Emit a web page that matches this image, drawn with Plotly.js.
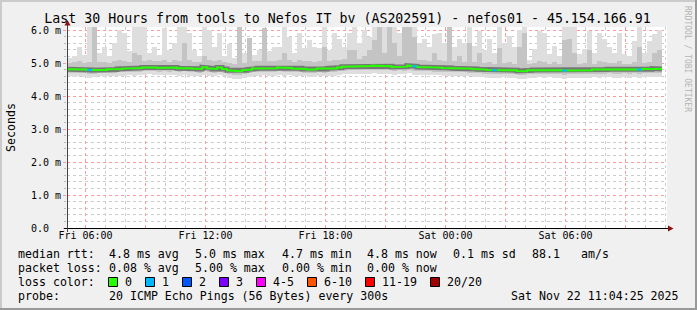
<!DOCTYPE html>
<html><head><meta charset="utf-8">
<script src="https://cdn.plot.ly/plotly-3.0.1.min.js"></script>
<style>
html,body{margin:0;padding:0;background:#f0f0f0;}
#wrap{position:relative;width:697px;height:310px;overflow:hidden;background:#f0f0f0;}
#chart{position:absolute;left:0;top:0;width:697px;height:310px;}
.b{position:absolute;pointer-events:none;}
</style></head><body>
<div id="wrap"><div id="chart"></div>
<div class="b" style="left:0;top:0;width:697px;height:2px;background:#cbcbcb"></div>
<div class="b" style="left:0;top:0;width:2px;height:310px;background:#cbcbcb"></div>
<div class="b" style="left:0;bottom:0;width:697px;height:2px;background:#999999"></div>
<div class="b" style="right:0;top:0;width:2px;height:310px;background:#999999"></div>
</div>
<script>
// ---------- data (ms), 15-minute bins starting Fri 2025-11-21 05:04:25 ----------
const titleText = 'Last 30 Hours from tools to Nefos IT bv (AS202591) - nefos01 - 45.154.166.91';
const rangeStart = '2025-11-21 05:04:25';
const rangeEnd = '2025-11-22 11:04:25';
const binStartUTC = Date.UTC(2025, 10, 21, 5, 4, 25);
const binMinutes = 15;

const median = [4.81,4.80,4.82,4.80,4.79,4.78,4.80,4.79,4.81,4.80,4.82,4.83,
4.84,4.83,4.85,4.86,4.88,4.86,4.85,4.87,4.85,4.86,4.84,4.86,
4.84,4.83,4.82,4.87,4.84,4.82,4.86,4.82,4.78,4.76,4.75,4.78,
4.80,4.83,4.84,4.85,4.83,4.84,4.86,4.84,4.85,4.83,4.84,4.82,
4.80,4.81,4.83,4.82,4.84,4.83,4.86,4.89,4.91,4.90,4.91,4.90,
4.91,4.92,4.90,4.91,4.90,4.88,4.90,4.89,4.92,4.90,4.88,4.88,
4.87,4.86,4.86,4.85,4.85,4.84,4.85,4.84,4.83,4.82,4.81,4.80,
4.79,4.78,4.79,4.80,4.79,4.78,4.76,4.75,4.78,4.79,4.80,4.79,
4.80,4.79,4.78,4.77,4.78,4.79,4.78,4.79,4.78,4.80,4.79,4.80,
4.81,4.80,4.79,4.81,4.80,4.81,4.80,4.82,4.81,4.83,4.82,null];

const lightTop = [5.15,5.20,5.50,5.25,6.10,6.10,5.30,5.50,5.20,5.60,6.00,5.90,
5.35,6.10,6.10,6.10,5.30,5.50,5.25,6.05,5.40,5.60,6.10,6.10,
5.90,5.40,5.20,6.10,6.00,5.50,5.90,5.20,5.58,5.15,6.10,5.30,
5.77,5.25,5.40,6.05,5.35,5.50,5.50,6.10,5.80,5.30,5.90,5.45,
5.70,5.50,5.45,6.10,5.40,5.92,5.72,5.50,5.92,6.10,5.60,6.00,
5.80,6.10,6.10,6.10,6.10,6.10,5.90,6.10,6.10,6.10,5.60,5.72,
5.50,5.87,5.90,5.60,6.10,5.50,5.72,5.60,6.10,5.52,5.97,5.40,
5.72,5.30,6.10,5.60,5.82,5.50,6.00,6.10,5.10,5.41,5.97,5.92,
5.26,5.52,5.20,6.10,6.10,6.10,5.26,5.41,5.97,5.30,5.92,5.72,
5.47,5.30,5.92,5.26,5.20,5.67,6.10,5.30,5.67,5.87,6.00,null];

const mediumTop = [5.00,5.02,5.05,5.01,5.03,6.10,5.02,5.04,5.00,5.06,5.08,5.05,
5.04,5.30,5.25,5.06,5.08,5.07,5.05,5.10,5.04,5.08,5.06,5.60,
5.10,5.04,5.03,5.20,5.08,5.05,5.10,5.02,5.00,4.98,6.10,5.00,
5.77,5.05,5.06,6.05,5.06,5.05,5.08,5.30,5.10,5.04,5.09,5.05,
5.06,5.04,5.05,5.50,5.06,5.10,5.08,5.12,5.40,5.40,5.12,5.20,
5.40,5.70,6.10,5.30,6.10,5.60,5.20,6.10,6.10,5.80,5.10,5.08,
5.06,5.30,5.08,5.05,6.10,5.06,5.20,5.04,5.60,5.02,5.30,5.00,
5.02,4.98,5.45,5.00,5.03,4.98,5.50,5.90,4.96,5.00,5.05,5.02,
4.98,5.04,4.97,5.70,5.72,5.30,4.98,5.00,5.40,4.98,5.05,5.02,
5.00,4.99,5.06,4.98,4.97,5.03,5.50,5.00,5.04,5.30,5.40,null];

const mediumBottom = [4.70,4.69,4.71,4.69,4.67,4.67,4.70,4.69,4.71,4.70,4.72,4.72,
4.73,4.72,4.74,4.75,4.76,4.75,4.74,4.75,4.74,4.75,4.73,4.75,
4.73,4.72,4.71,4.75,4.73,4.71,4.74,4.71,4.67,4.65,4.64,4.67,
4.69,4.72,4.73,4.74,4.72,4.73,4.75,4.73,4.74,4.72,4.73,4.71,
4.69,4.70,4.72,4.71,4.73,4.72,4.75,4.77,4.79,4.78,4.79,4.78,
4.79,4.80,4.78,4.79,4.78,4.76,4.78,4.77,4.80,4.76,4.76,4.76,
4.75,4.74,4.74,4.73,4.73,4.72,4.73,4.72,4.71,4.70,4.69,4.68,
4.67,4.66,4.67,4.68,4.67,4.66,4.64,4.63,4.66,4.67,4.68,4.67,
4.68,4.67,4.66,4.65,4.66,4.67,4.66,4.67,4.66,4.68,4.67,4.68,
4.69,4.68,4.67,4.69,4.68,4.69,4.67,4.70,4.69,4.71,4.70,null];

const lightBottom = [4.60,4.58,4.61,4.59,4.56,4.57,4.60,4.59,4.61,4.60,4.62,4.62,
4.63,4.62,4.64,4.64,4.66,4.64,4.63,4.65,4.63,4.64,4.62,4.64,
4.62,4.61,4.60,4.64,4.62,4.60,4.63,4.60,4.56,4.53,4.52,4.56,
4.58,4.61,4.62,4.63,4.61,4.62,4.64,4.62,4.63,4.61,4.62,4.60,
4.58,4.59,4.61,4.60,4.62,4.61,4.64,4.66,4.68,4.67,4.68,4.67,
4.68,4.69,4.67,4.68,4.67,4.65,4.67,4.66,4.69,4.64,4.65,4.65,
4.64,4.63,4.63,4.62,4.62,4.61,4.62,4.61,4.60,4.59,4.58,4.57,
4.56,4.55,4.56,4.57,4.56,4.55,4.53,4.52,4.55,4.56,4.57,4.56,
4.57,4.55,4.55,4.53,4.55,4.56,4.55,4.56,4.54,4.57,4.55,4.57,
4.58,4.56,4.55,4.57,4.56,4.58,4.55,4.58,4.57,4.59,4.58,null];

const lossCount = [0,0,0,0,1,0,0,0,0,0,0,0, 0,0,0,0,0,0,0,0,0,0,0,0,
0,0,0,0,0,0,0,0,0,0,0,0, 0,0,0,0,0,0,0,0,0,0,0,0,
0,0,0,0,0,0,0,0,0,0,0,0, 0,0,0,0,0,0,0,0,0,1,0,0,
0,0,0,0,0,0,0,0,0,0,0,0, 0,1,0,0,0,0,0,0,0,0,0,0,
0,0,0,1,0,0,0,0,0,0,0,0, 0,0,0,0,0,0,1,0,0,0,0,0];

const yTickVals = [0,1,2,3,4,5,6];
const yTickText = ['0.0\u00a0\u00a0','1.0 m','2.0 m','3.0 m','4.0 m','5.0 m','6.0 m'];
const xTickVals = ['2025-11-21 06:00','2025-11-21 09:00','2025-11-21 12:00','2025-11-21 15:00',
  '2025-11-21 18:00','2025-11-21 21:00','2025-11-22 00:00','2025-11-22 03:00','2025-11-22 06:00','2025-11-22 09:00'];
const xTickText = ['Fri 06:00','','Fri 12:00','','Fri 18:00','','Sat 00:00','','Sat 06:00',''];

const rowLabels = ['median rtt:','packet loss:','loss color:','probe:'];
const rttStats = ['4.8 ms avg','5.0 ms max','4.7 ms min','4.8 ms now','0.1 ms sd','88.1','am/s'];
const lossStats = ['0.08 % avg','5.00 % max','0.00 % min','0.00 % now'];
const lossLabels = ['0','1','2','3','4-5','6-10','11-19','20/20'];
const lossColors = ['#26ff00','#00b8ff','#0059ff','#7e00ff','#ff00ff','#ff5500','#ff0000','#a10000'];
const probeText = '20 ICMP Echo Pings (56 Bytes) every 300s';
const stampText = 'Sat Nov 22 11:04:25 2025';
const watermark = 'RRDTOOL / TOBI OETIKER';
const yTitle = 'Seconds';

// ---------- geometry ----------
const L = 67, T = 27, W = 600, H = 201;
const px = x => (x - L) / W;
const py = y => (T + H - y) / H;
const MONO = 'DejaVu Sans Mono, monospace';
const stepMs = binMinutes * 60000;

const n = median.length;
const centers = [], starts = [], ends = [];
for (let i = 0; i < n; i++) {
  starts.push(binStartUTC + i * stepMs);
  ends.push(binStartUTC + (i + 1) * stepMs);
  centers.push(binStartUTC + (i + 0.5) * stepMs);
}
const span = (top, bot) => top.map((v, i) => (v == null || bot[i] == null) ? null : +(v - bot[i]).toFixed(3));

const mx = [], my = [];
for (let i = 0; i < n; i++) {
  if (median[i] == null) { mx.push(null); my.push(null); continue; }
  mx.push(starts[i], ends[i]); my.push(median[i], median[i]);
}
const lossTraces = [];
for (let c = 1; c < lossColors.length; c++) {
  const lx = [], ly = [];
  for (let i = 0; i < n; i++) {
    if (median[i] != null && lossCount[i] === c) { lx.push(starts[i], ends[i], null); ly.push(median[i], median[i], null); }
  }
  if (lx.length) lossTraces.push({type:'scatter', mode:'lines', x:lx, y:ly, line:{color:lossColors[c], width:2}, hoverinfo:'skip', showlegend:false});
}

const traces = [
  {type:'bar', x:centers, base:lightBottom, y:span(lightTop, lightBottom), width:stepMs,
   marker:{color:'#dedede', line:{width:0}}, hoverinfo:'skip', showlegend:false},
  {type:'bar', x:centers, base:mediumBottom, y:span(mediumTop, mediumBottom), width:stepMs,
   marker:{color:'#c4c4c4', line:{width:0}}, hoverinfo:'skip', showlegend:false},
  {type:'scatter', mode:'lines', x:mx, y:my, line:{color:'rgba(100,100,100,0.8)', width:5}, hoverinfo:'skip', showlegend:false},
  {type:'scatter', mode:'lines', x:mx, y:my, line:{color:lossColors[0], width:2}, hoverinfo:'skip', showlegend:false},
  ...lossTraces
];

// ---------- annotations ----------
const ann = [];
const txt = (x, y, s, opt = {}) => ann.push(Object.assign({xref:'paper', yref:'paper', x:px(x), y:py(y), text:s,
  showarrow:false, xanchor:'left', yanchor:'middle', font:{family:MONO, size:11.6, color:'#000'}}, opt));
const rowY = [254, 268, 282, 296];
rowLabels.forEach((s, i) => txt(16, rowY[i], s));
const statX = [107, 193, 279.5, 365, 451, 530, 579];
rttStats.forEach((s, i) => txt(statX[i], rowY[0], s));
lossStats.forEach((s, i) => txt(statX[i], rowY[1], s));
txt(107, rowY[3], probeText);
txt(681, rowY[3], stampText, {xanchor:'right'});
txt(688, 59, watermark, {xanchor:'center', textangle:90, font:{family:MONO, size:8, color:'#b4b4b4'}});
txt(11, 128, yTitle, {xanchor:'center', textangle:-90});

const shapes = [];
let bx = 108;
lossLabels.forEach((s, i) => {
  shapes.push({type:'rect', xref:'paper', yref:'paper', x0:px(bx + 0.5), x1:px(bx + 9.5), y0:py(277.5), y1:py(286.5),
    fillcolor:lossColors[i], line:{color:'#000', width:1}});
  txt(bx + 15, rowY[2], s);
  bx = bx + 15 + 7 * s.length + 15;
});
shapes.push({type:'line', xref:'paper', yref:'paper', x0:px(64), x1:px(669), y0:py(228.5), y1:py(228.5), line:{color:'#000', width:1}});
shapes.push({type:'line', xref:'paper', yref:'paper', x0:px(67.5), x1:px(67.5), y0:py(232), y1:py(24), line:{color:'#444', width:1}});
const P = (pts) => 'M' + pts.map(p => px(p[0]).toFixed(5) + ',' + py(p[1]).toFixed(5)).join(' L') + ' Z';
shapes.push({type:'path', xref:'paper', yref:'paper', path:P([[64.5,25.5],[70.5,25.5],[67.5,20]]), fillcolor:'#8b1010', line:{width:0}});
shapes.push({type:'path', xref:'paper', yref:'paper', path:P([[668,225.5],[668,231.5],[673.5,228.5]]), fillcolor:'#8b1010', line:{width:0}});

const layout = {
  width:697, height:310,
  margin:{l:L, r:697 - L - W, t:T, b:310 - T - H, pad:0},
  paper_bgcolor:'rgba(0,0,0,0)', plot_bgcolor:'#ffffff',
  title:{text:titleText, xref:'container', yref:'container', x:347.5/697, y:1 - 18/310, xanchor:'center', yanchor:'middle',
    font:{family:MONO, size:13.25, color:'#000'}},
  barmode:'overlay', bargap:0,
  showlegend:false,
  xaxis:{type:'date', range:[rangeStart, rangeEnd], tickmode:'array', tickvals:xTickVals, ticktext:xTickText,
    showgrid:true, gridcolor:'#ff9a9a', griddash:'dot', gridwidth:1,
    minor:{dtick:3600000, tick0:'2025-11-21 06:00', showgrid:true, gridcolor:'#cccccc', griddash:'dot', gridwidth:1, ticks:''},
    zeroline:false, showline:false, ticks:'', tickfont:{family:MONO, size:10, color:'#000'}, fixedrange:true},
  yaxis:{range:[0, 6.0909], tickmode:'array', tickvals:yTickVals, ticktext:yTickText,
    showgrid:true, gridcolor:'#ff9a9a', griddash:'dot', gridwidth:1,
    minor:{dtick:0.2, tick0:0, showgrid:true, gridcolor:'#cccccc', griddash:'dot', gridwidth:1, ticks:'outside', ticklen:2, tickcolor:'#bbbbbb'},
    ticks:'outside', ticklen:3, tickcolor:'#ff9a9a',
    zeroline:false, showline:false, tickfont:{family:MONO, size:10, color:'#000'}, fixedrange:true},
  annotations:ann, shapes:shapes
};
Plotly.newPlot('chart', traces, layout, {staticPlot:true, displayModeBar:false});
</script>
</body></html>
